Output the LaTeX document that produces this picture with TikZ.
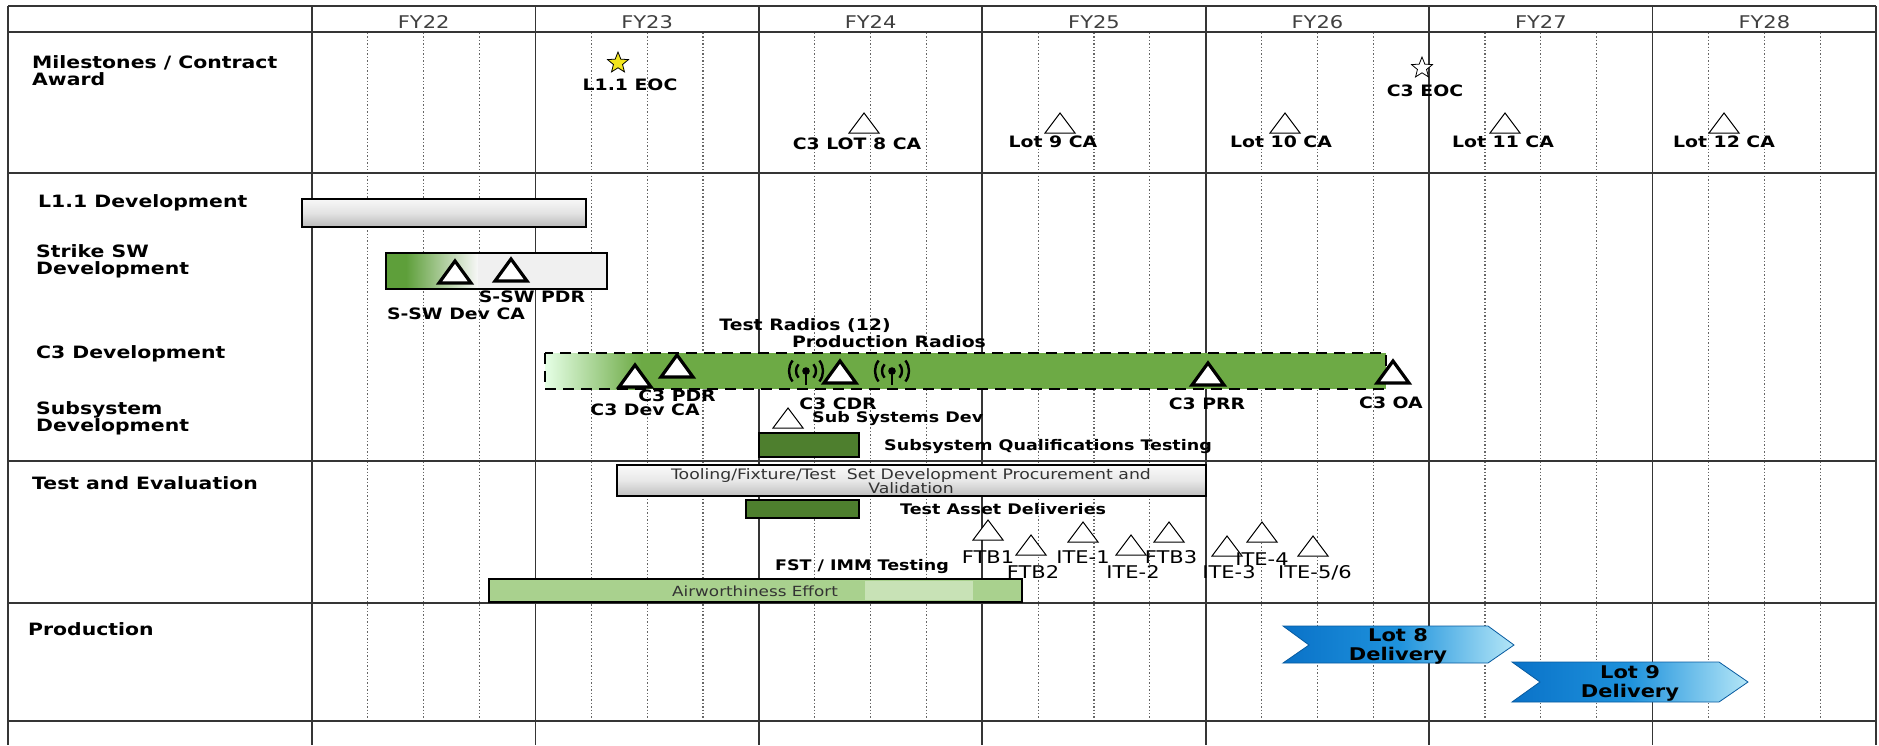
\documentclass[tikz,border=0pt]{standalone}
\usepackage{fontspec}
\setmainfont[FakeStretch=1.2]{DejaVu Sans}
\usetikzlibrary{shapes.geometric}
\definecolor{gridc}{HTML}{353535}
\definecolor{qc}{HTML}{666666}
\definecolor{cgreen}{HTML}{6DAA45}
\definecolor{dgreen}{HTML}{4E7F2E}
\definecolor{lgreen}{HTML}{A9D18E}
\definecolor{llgreen}{HTML}{C8E2B6}
\definecolor{sgreen}{HTML}{5E9F3A}
\definecolor{bdark}{HTML}{0A72C8}
\definecolor{bmid}{HTML}{1E92DC}
\definecolor{blight}{HTML}{B4E6F7}
\definecolor{fyc}{HTML}{404040}
\definecolor{staryellow}{HTML}{F2E51C}
\newcommand{\mstri}[3][thintri]{\path[#1] ({#2},{#3-10}) -- ({#2+15},{#3+10}) -- ({#2-15},{#3+10}) -- cycle;}
\newcommand{\mbtri}[2]{\path[boldtri] ({#1},{#2-11}) -- ({#1+16},{#2+11}) -- ({#1-16},{#2+11}) -- cycle;}
\newcommand{\radioicon}[2]{%
  \fill (#1,#2) circle (3.8);
  \draw[line width=2.6pt] (#1,#2) -- ({#1},{#2+14});
  \draw[line width=2.4pt] ([shift={(138:10)}]#1,#2) arc[start angle=138,end angle=222,radius=10];
  \draw[line width=2.4pt] ([shift={(-42:10)}]#1,#2) arc[start angle=-42,end angle=42,radius=10];
  \draw[line width=2.4pt] ([shift={(142:17)}]#1,#2) arc[start angle=142,end angle=218,radius=17];
  \draw[line width=2.4pt] ([shift={(-38:17)}]#1,#2) arc[start angle=-38,end angle=38,radius=17];
}
\begin{document}
\begin{tikzpicture}[x=1pt,y=-1pt,
  gridline/.style={line width=1.7pt, draw=gridc},
  qline/.style={line width=1.1pt, draw=qc, dash pattern=on 1.3pt off 2.1pt},
  rowlab/.style={anchor=west, align=left, inner sep=0pt, font=\bfseries\fontsize{17}{17}\selectfont},
  fylab/.style={inner sep=0pt, text=fyc, font=\fontsize{17.5}{20}\selectfont},
  mslab/.style={inner sep=0pt, font=\bfseries\fontsize{15.7}{17}\selectfont},
  tlab/.style={inner sep=0pt, font=\fontsize{17.5}{18}\selectfont},
  barlab/.style={anchor=west, inner sep=0pt, font=\bfseries\fontsize{14.6}{16}\selectfont},
  bartxt/.style={inner sep=0pt, align=center, text=black!80, font=\fontsize{14.4}{14.5}\selectfont},
  airtxt/.style={inner sep=0pt, text=black!80, font=\fontsize{14}{15}\selectfont},
  barframe/.style={draw=black, line width=2.6pt},
  thintri/.style={draw=black, fill=white, line width=1pt},
  boldtri/.style={draw=black, fill=white, line width=3.2pt, line join=miter},
  chev/.style={draw=bdark!80!black, line width=0.8pt, left color=bdark, right color=blight, middle color=bmid},
  chevtxt/.style={align=center, inner sep=0pt, font=\bfseries\fontsize{17.5}{19}\selectfont},
]
\useasboundingbox (0,0) rectangle (1879,745);
\fill[white] (0,0) rectangle (1879,745);
% quarter lines
\foreach \i in {0,...,6} \foreach \q in {1,2,3}
  \draw[qline] ({312+223.43*(\i+\q/4)},33) -- ({312+223.43*(\i+\q/4)},720);
% grid
\foreach \y in {6,32,173,461,603,721} \draw[gridline] (8,\y) -- (1876,\y);
\draw[gridline] (8,6) -- (8,745);
\foreach \i in {0,...,7} \draw[gridline] ({312+223.43*\i},6) -- ({312+223.43*\i},745);
% year labels
\foreach \i/\t in {0/FY22,1/FY23,2/FY24,3/FY25,4/FY26,5/FY27,6/FY28}
  \node[fylab] (fy\i) at ({312+223.43*(\i+0.5)},22) {\t};
% row labels
\node[rowlab] (rmile) at (32,71) {Milestones / Contract\\Award};
\node[rowlab] (rl11) at (38,203) {L1.1 Development};
\node[rowlab] (rstrike) at (36,261) {Strike SW\\Development};
\node[rowlab] (rc3) at (36,354) {C3 Development};
\node[rowlab] (rsub) at (36,418) {Subsystem\\Development};
\node[rowlab] (rte) at (32,483) {Test and Evaluation};
\node[rowlab] (rprod) at (28,629) {Production};
% milestones row
\node[star, star points=5, star point ratio=2.3, draw=black, line width=0.8pt, fill=staryellow, minimum size=22pt, inner sep=0pt] (s1) at (618,63) {};
\node[mslab] (l11eoc) at (630,85) {L1.1 EOC};
\node[star, star points=5, star point ratio=2.3, draw=black, line width=0.8pt, fill=white, minimum size=22pt, inner sep=0pt] (s2) at (1422,68) {};
\node[mslab] (c3eoc) at (1425,91) {C3 EOC};
\mstri{864}{123}\node[mslab] (lot8ca) at (857,144) {C3 LOT 8 CA};
\mstri{1060}{123}\node[mslab] (lot9ca) at (1053,142) {Lot 9 CA};
\mstri{1285}{123}\node[mslab] (lot10ca) at (1281,142) {Lot 10 CA};
\mstri{1505}{123}\node[mslab] (lot11ca) at (1503,142) {Lot 11 CA};
\mstri{1724}{123}\node[mslab] (lot12ca) at (1724,142) {Lot 12 CA};
% L1.1 bar
\path[barframe, top color=gray!6, bottom color=gray!55, middle color=gray!22] (302,199) rectangle (586,227);
% Strike SW bar
\fill[gray!12] (386,253) rectangle (607,289);
\fill[sgreen] (386,253) rectangle (407,289);
\shade[left color=sgreen, right color=gray!6] (406,253) rectangle (478,289);
\draw[barframe] (386,253) rectangle (607,289);
\mbtri{455}{272}
\mbtri{511}{270}
\node[mslab] (sswpdr) at (532,297) {S-SW PDR};
\node[mslab] (sswca) at (456,314) {S-SW Dev CA};
% C3 bar
\fill[cgreen] (640,353) rectangle (1386,389);
\shade[left color=green!10!white, right color=cgreen] (545,353) rectangle (641,389);
\draw[line width=2.6pt, dash pattern=on 11pt off 7pt] (545,353) rectangle (1386,389);
\node[mslab] (radios12) at (805,326) {Test Radios (12)};
\node[mslab] (prodradios) at (889,342) {Production Radios};
\radioicon{806}{371}
\radioicon{892}{371}
\mbtri{635}{376}
\mbtri{677}{366}
\mbtri{840}{372}
\mbtri{1208}{374}
\mbtri{1393}{372}
\node[mslab] (c3pdr) at (677,396) {C3 PDR};
\node[mslab] (c3devca) at (645,410) {C3 Dev CA};
\node[mslab] (c3cdr) at (838,404) {C3 CDR};
\node[mslab] (c3prr) at (1207,404) {C3 PRR};
\node[mslab] (c3oa) at (1391,403) {C3 OA};
% subsystem
\mstri{788}{418}
\node[barlab] (subdev) at (812,419) {Sub Systems Dev};
\path[draw=black, line width=2.4pt, fill=dgreen] (759,433) rectangle (859,457);
\node[barlab] (subqual) at (884,447) {Subsystem Qualifications Testing};
% test and evaluation
\path[barframe, top color=gray!4, bottom color=gray!50, middle color=gray!18] (617,465) rectangle (1206,496);
\node[bartxt] (tooling) at (911,481) {Tooling/Fixture/Test\ \ Set Development Procurement and\\Validation};
\path[draw=black, line width=2.4pt, fill=dgreen] (746,500) rectangle (859,518);
\node[barlab] (testasset) at (900,509) {Test Asset Deliveries};
\mstri{988}{530}
\mstri{1083}{532}
\mstri{1169}{532}
\mstri{1262}{532}
\mstri{1031}{545}
\mstri{1131}{545}
\mstri{1227}{546}
\mstri{1313}{546}
\node[tlab] (ftb1) at (988,557) {FTB1};
\node[tlab] (ite1) at (1083,557) {ITE-1};
\node[tlab] (ftb3) at (1171,557) {FTB3};
\node[tlab] (ite4) at (1262,559) {ITE-4};
\node[tlab] (ftb2) at (1033,572) {FTB2};
\node[tlab] (ite2) at (1133,572) {ITE-2};
\node[tlab] (ite3) at (1229,572) {ITE-3};
\node[tlab] (ite56) at (1315,573) {ITE-5/6};
\node[barlab, anchor=center] (fst) at (862,567) {FST / IMM Testing};
\fill[lgreen] (489,579) rectangle (1022,602);
\fill[llgreen] (865,581) rectangle (973,600);
\draw[barframe] (489,579) rectangle (1022,602);
\node[airtxt] (airw) at (755,591) {Airworthiness Effort};
% production
\path[chev] (1283,626) -- (1488,626) -- (1514,645) -- (1488,663) -- (1283,663) -- (1309,645) -- cycle;
\node[chevtxt] (lot8) at (1398,646) {Lot 8\\Delivery};
\path[chev] (1512,662) -- (1719,662) -- (1748,682) -- (1719,702) -- (1512,702) -- (1540,682) -- cycle;
\node[chevtxt] (lot9) at (1630,683) {Lot 9\\Delivery};
\end{tikzpicture}
\end{document}
